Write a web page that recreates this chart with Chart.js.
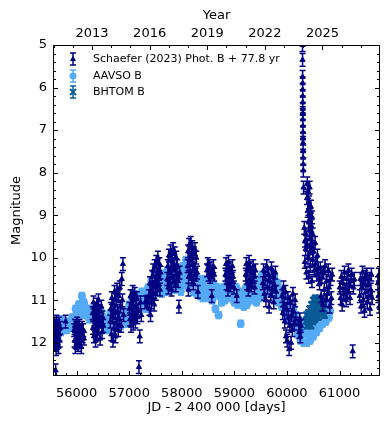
<!DOCTYPE html>
<html>
<head>
<meta charset="utf-8">
<script src="https://cdn.jsdelivr.net/npm/chart.js@4"></script>
<style>
  body { margin: 0; background: #fff; overflow: hidden; }
  #c { display: block; }
</style>
</head>
<body>
<canvas id="c" width="390" height="425"></canvas>
<script>
// ==================== DATOS ====================

// Schaefer (2023) Phot. B + 77.8 yr : JD - 2400000 y magnitud
const schJD = [
  55572,55578,55583,55588,55594,55600,55603,55609,55615,55620,55627,55633,55640,55648,55655,55662,55670,55678,55686,
  55790,
  55952,55960,55968,55975,55983,55991,55999,56008,56016,56025,56034,56043,56053,56064,56076,56088,56100,56112,56125,56138,
  56305,56312,56320,56328,56336,56344,56352,56360,56368,56377,56386,56395,56405,56415,56425,56436,56447,56458,56470,56482,56494,56506,
  56640,56650,56660,56670,56680,56690,56700,56710,56720,56730,56740,56750,56760,56770,56780,56790,56800,56810,56822,56834,56846,56858,56870,56880,56892,
  57005,57015,57025,57035,57045,57055,57065,57075,57085,57095,57105,57118,57130,57142,57155,57168,57185,57200,57215,57230,
  57300,57325,57350,
  57375,57385,57395,57405,57415,57425,57435,57445,57455,57465,57475,57485,57495,57505,57515,57525,57535,57545,57555,57565,57575,57585,57595,
  57725,57735,57745,57755,57765,57775,57785,57795,57805,57815,57825,57835,57845,57855,57865,57875,57885,57895,57905,57915,57930,57945,57958,
  58110,58120,58125,58130,58140,58150,58160,58170,58180,58190,58200,58210,58220,58230,58240,58250,58262,58275,58290,58305,
  58480,58495,58510,58525,58540,58555,58570,58585,58600,58615,
  58830,58842,58854,58866,58878,58890,58902,58914,58926,58938,58950,58962,58975,58990,59045,
  59215,59228,59241,59254,59267,59280,59293,59306,59319,59332,59345,59358,59371,59385,59400,
  59540,59555,59570,59585,59600,59615,59630,59645,59660,59675,59690,59705,59720,59735,59750,59765,59780,59795,
  59910,59922,59934,59946,59958,59970,59982,59994,60006,60018,60030,60042,60054,60066,60078,60090,60102,60114,60126,60140,60155,60170,
  60225,60235,60245,60255,60265,
  60296,60297,60298,60299,60300,60300,60301,60302,60302,60303,60304,60305,60306,60307,60308,60309,60310,60311,60315,
  60330,60345,60360,60380,60388,60395,60402,60410,60418,60425,60432,60440,60448,60456,60464,60472,60480,60490,
  60340,60355,60370,60385,60400,60415,60430,60445,60460,60475,60490,60505,60520,60535,60550,60565,60580,60595,60610,
  60620,60635,60650,60665,60680,60695,60710,60725,60740,60755,60770,60785,60800,60815,60830,60845,60860,
  61005,61020,61035,61050,61065,61080,61095,61110,61125,61140,61155,61170,61185,61200,61215,61230,61250,61265,61280,
  61385,61398,61411,61424,61437,61450,61463,61476,61489,61502,61515,61528,61541,61554,61567,61580,61593,61606,61620,
  61730,61740,61748,61755,61762
];
const schMag = [
  11.55,11.8,12.05,11.65,11.95,12.65,11.7,12.15,11.5,11.85,12.0,11.6,11.9,11.75,12.1,11.55,11.8,11.95,11.65,
  11.5,
  11.7,11.95,11.6,12.1,11.8,11.65,12.0,11.55,11.85,12.05,11.7,11.9,11.6,11.95,11.75,12.1,11.65,11.85,11.7,11.9,
  11.3,11.65,11.05,11.85,11.45,11.2,11.7,11.95,11.35,11.55,11.1,11.8,11.4,11.0,11.6,11.25,11.9,11.5,11.15,11.75,11.4,11.6,
  11.5,11.2,11.8,10.95,11.4,11.95,11.1,11.65,10.8,11.3,11.85,11.0,11.55,10.75,11.25,11.7,10.9,11.45,10.7,11.15,11.6,10.5,11.0,10.15,11.35,
  11.2,11.45,10.9,11.6,11.1,11.35,10.8,11.55,11.0,11.3,10.85,11.5,11.15,10.95,11.4,11.25,12.57,11.85,11.05,11.35,
  11.05,11.05,11.03,
  10.9,11.2,10.6,11.35,10.8,11.05,10.45,10.95,10.3,10.7,11.1,10.2,10.55,10.85,10.1,10.4,10.65,10.0,10.3,10.5,10.15,10.75,10.35,
  10.5,10.2,10.7,9.95,10.35,10.6,9.85,10.25,10.75,10.05,10.45,9.8,10.15,10.55,9.9,10.3,10.65,10.0,10.4,10.2,10.55,11.15,10.35,
  10.2,9.85,10.75,10.45,9.7,10.05,10.3,9.65,9.95,10.5,9.75,10.15,10.6,9.9,10.25,9.8,10.4,10.0,10.35,10.8,
  10.3,10.15,10.4,10.2,10.45,10.25,10.9,10.35,10.2,10.4,
  10.4,10.15,10.6,10.3,10.75,10.1,10.5,10.25,10.65,10.35,10.55,10.2,10.45,10.7,10.9,
  10.4,10.15,10.6,10.3,10.75,10.1,10.5,10.25,10.65,10.35,10.55,10.2,10.45,10.7,10.3,
  10.6,10.3,10.85,10.5,11.0,10.2,10.7,10.4,11.15,10.55,10.9,10.25,10.75,10.45,11.05,10.65,10.35,10.8,
  10.9,11.3,10.7,11.1,11.5,10.8,11.85,11.2,11.95,10.95,11.4,12.15,11.6,11.05,12.0,11.35,11.7,10.85,11.25,11.55,11.0,11.45,
  11.55,11.75,11.45,11.85,11.6,
  5.0,5.35,5.75,5.9,6.05,6.2,6.35,6.5,6.6,6.75,6.9,7.05,7.2,7.3,7.5,7.65,7.8,7.95,8.35,
  9.3,9.6,9.45,8.6,8.25,8.9,8.45,9.15,8.7,9.35,8.35,9.0,9.55,8.8,9.25,9.65,9.05,9.45,
  10.1,9.8,10.35,9.7,10.0,10.45,9.9,10.2,9.75,10.55,10.05,9.85,10.3,9.65,10.15,10.4,9.95,10.25,10.5,
  10.6,10.25,10.9,10.45,11.1,10.35,10.75,10.2,11.0,10.55,10.85,10.3,10.7,11.15,10.5,10.95,10.4,
  10.7,10.95,10.45,11.1,10.6,10.85,10.35,10.75,11.0,10.5,10.8,10.3,10.65,10.95,10.55,10.4,12.2,10.7,10.5,
  10.9,10.5,11.15,10.7,10.35,11.0,10.6,11.25,10.45,10.8,10.4,11.05,10.65,10.9,10.5,11.2,10.75,10.4,10.95,
  10.6,10.9,10.4,11.15,10.75
];

// AAVSO B
const aavsoJD = [
  55560,55580,55600, 55620,55640,55660, 55680,55700,55720, 55740,55760,55780, 55800,55820,55840,
  55860,55880,55900, 55920,55940,55960, 55980,56000,56020, 56040,56060,56080, 56100,56120,56140,
  56160,56180,56200, 56220,56240,56260, 56280,56300,56320, 56340,56360,56380, 56400,56420,56440,
  56460,56480,56500, 56520,56540,56560, 56580,56600,56620, 56640,56660,56680, 56700,56720,56740,
  56760,56780,56800, 56820,56840,56860, 56880,56900,56920, 56940,56960,56980, 57000,57020,57040,
  57060,57080,57100, 57120,57140,57160, 57180,57200,57220, 57240,57260,57280, 57300,57320,57340,
  57360,57380,57400, 57420,57440,57460, 57480,57500,57520, 57540,57560,57580, 57600,57620,57640,
  57660,57680,57700, 57720,57740,57760, 57780,57800,57820, 57840,57860,57880, 57900,57920,57940,
  57960,57980,58000, 58020,58040,58060, 58080,58100,58120, 58140,58160,58180, 58200,58220,58240,
  58260,58280,58300, 58320,58340,58360, 58380,58400,58420, 58440,58460,58480, 58500,58520,58540,
  58560,58580,58600, 58620,58640,58660, 58680,58700,58720, 58740,58760,58780, 58800,58820,58840,
  58860,58880,58900, 58920,58940,58960, 58980,59000,59020, 59040,59060,59080, 59100,59120,59140,
  59160,59180,59200, 59220,59240,59260, 59280,59300,59320, 59340,59360,59380, 59400,59420,59440,
  59460,59480,59500, 59520,59540,59560, 59580,59600,59620, 59640,59660,59680, 59700,59720,59740,
  59760,59780,59800, 59820,59840,59860, 59880,59900,59920, 59940,59960,59980, 60000,60020,60040,
  60060,60080,60100, 60120,60140,60160, 60180,60200,60220, 60240,60260,60280, 60300,60320,60340,
  60360,60380,60400, 60420,60440,60460, 60480,60500,60520, 60540,60560,60580, 60600,60620,60640,
  60660,60680,60700, 60720,60740,60760, 60780,60800,60820
];
const aavsoMag = [
  11.55,11.85,11.7, 11.5,11.8,11.65, 11.45,11.75,11.6, 11.45,11.7,11.55, 11.5,11.7,11.6,
  11.5,11.65,11.55, 11.4,11.6,11.5, 11.2,11.4,11.3, 11.1,11.35,11.2, 10.9,11.25,11.05,
  11.15,11.35,11.25, 11.2,11.45,11.3, 11.2,11.4,11.3, 11.25,11.45,11.35, 11.2,11.45,11.3,
  11.25,11.5,11.4, 11.45,11.7,11.55, 11.45,11.7,11.6, 11.3,11.65,11.45, 11.25,11.6,11.4,
  11.25,11.55,11.4, 11.3,11.6,11.45, 11.3,11.55,11.4, 11.25,11.55,11.4, 11.1,11.4,11.25,
  11.0,11.35,11.15, 10.9,11.25,11.05, 10.85,11.2,11.0, 10.8,11.15,10.95, 10.85,11.2,11.0,
  10.7,11.0,10.85, 10.55,10.9,10.7, 10.4,10.8,10.6, 10.35,10.8,10.55, 10.4,10.85,10.6,
  10.45,10.8,10.6, 10.3,10.75,10.5, 10.1,10.7,10.4, 10.35,10.75,10.55, 10.3,10.7,10.5,
  10.4,10.8,10.6, 10.2,10.65,10.4, 10.05,10.6,10.3, 10.3,10.7,10.5, 10.3,10.8,10.55,
  10.4,10.85,10.6, 10.5,10.9,10.7, 10.6,10.95,10.75, 10.5,10.9,10.7, 10.55,10.95,10.75,
  10.6,11.0,10.8, 10.65,11.2,10.85, 10.7,11.35,10.9, 10.75,11.05,10.9, 10.7,11.0,10.85,
  10.6,10.95,10.75, 10.55,10.95,10.75, 10.65,11.05,10.85, 10.7,11.1,10.9, 10.8,11.55,11.0,
  10.8,11.15,10.95, 10.7,11.1,10.9, 10.6,11.0,10.8, 10.55,11.0,10.75, 10.6,11.05,10.8,
  10.5,10.95,10.7, 10.4,10.9,10.65, 10.35,10.85,10.6, 10.3,10.8,10.55, 10.35,10.85,10.6,
  10.45,10.95,10.7, 10.6,11.05,10.8, 10.75,11.15,10.95, 10.9,11.3,11.1, 11.0,11.45,11.2,
  11.1,11.55,11.3, 11.2,11.65,11.4, 11.35,11.8,11.55, 11.5,11.95,11.7, 11.6,12.0,11.8,
  11.6,12.0,11.8, 11.55,11.95,11.75, 11.45,11.85,11.65, 11.35,11.75,11.55, 11.25,11.65,11.45,
  11.2,11.55,11.35, 11.1,11.5,11.3, 11.1,11.4,11.25
];

// BHTOM B
const bhtomJD = [
  60360,60370,60385,60400,60410,60420,60435,60445,60455,60470,60480,60490,60505,60515,60525,
  60540,60550,60560,60575,60585,60595,60610,60620,60630,60645,60655,60670,60685,60700,60715
];
const bhtomMag = [
  11.5,11.35,11.6,11.45,11.3,11.55,11.2,11.4,11.6,11.1,11.3,11.5,11.0,11.25,11.45,
  10.95,11.15,11.35,11.0,11.2,11.4,10.95,11.15,11.3,11.05,11.25,11.1,11.3,11.2,11.35
];

// Ejes
const jdTicks = [56000, 57000, 58000, 59000, 60000, 61000];
const magTicks = [5, 6, 7, 8, 9, 10, 11, 12];
const yearTicks = [2013, 2016, 2019, 2022, 2025];
const JD_MIN = 55550, JD_MAX = 61770;
const MAG_MIN = 5, MAG_MAX = 12.78;

// año -> JD - 2400000
function jdDeAnio(a) {
  return 51544.5 + (a - 2000) * 365.25;
}

function puntos(xs, ys) {
  return xs.map((x, i) => ({ x: x, y: ys[i] }));
}

// ==================== PLUGINS ====================

// barras de error verticales, dibujadas justo antes de los puntos de cada serie
const barrasError = {
  id: 'barrasError',
  beforeDatasetDraw(chart, args) {
    const ds = chart.data.datasets[args.index];
    if (!ds.err) return;
    const ys = chart.scales.y;
    const a = chart.chartArea;
    const ctx = chart.ctx;
    ctx.save();
    ctx.beginPath();
    ctx.rect(a.left, a.top, a.right - a.left, a.bottom - a.top);
    ctx.clip();
    ctx.strokeStyle = ds.errColor;
    ctx.lineWidth = ds.errWidth;
    ctx.beginPath();
    args.meta.data.forEach((p, i) => {
      const v = ds.data[i].y;
      const y0 = ys.getPixelForValue(v - ds.err);
      const y1 = ys.getPixelForValue(v + ds.err);
      ctx.moveTo(p.x, y0); ctx.lineTo(p.x, y1);
      ctx.moveTo(p.x - ds.cap, y0); ctx.lineTo(p.x + ds.cap, y0);
      ctx.moveTo(p.x - ds.cap, y1); ctx.lineTo(p.x + ds.cap, y1);
    });
    ctx.stroke();
    ctx.restore();
  }
};

// marco y marcas hacia dentro (estilo matplotlib) + leyenda
const marcoYLeyenda = {
  id: 'marcoYLeyenda',
  afterDraw(chart) {
    const ctx = chart.ctx;
    const a = chart.chartArea;
    const xs = chart.scales.x, ys = chart.scales.y;
    ctx.save();
    ctx.strokeStyle = '#000';
    ctx.lineWidth = 1;
    ctx.strokeRect(Math.round(a.left) + 0.5, Math.round(a.top) + 0.5,
      Math.round(a.right - a.left) - 1, Math.round(a.bottom - a.top) - 1);

    ctx.beginPath();
    // eje inferior JD
    for (let v = 55600; v <= JD_MAX; v += 200) {
      const px = Math.round(xs.getPixelForValue(v)) + 0.5;
      const len = v % 1000 === 0 ? 5 : 3;
      ctx.moveTo(px, a.bottom); ctx.lineTo(px, a.bottom - len);
    }
    // eje superior: años
    for (let an = 2011; an <= 2027; an++) {
      const jd = jdDeAnio(an);
      if (jd < JD_MIN || jd > JD_MAX) continue;
      const px = Math.round(xs.getPixelForValue(jd)) + 0.5;
      const len = yearTicks.includes(an) ? 5 : 3;
      ctx.moveTo(px, a.top); ctx.lineTo(px, a.top + len);
    }
    // ejes izquierdo y derecho
    for (let k = 25; k <= 63; k++) {
      const m = k / 5;
      if (m > MAG_MAX) break;
      const py = Math.round(ys.getPixelForValue(m)) + 0.5;
      const len = k % 5 === 0 ? 5 : 3;
      ctx.moveTo(a.left, py); ctx.lineTo(a.left + len, py);
      ctx.moveTo(a.right, py); ctx.lineTo(a.right - len, py);
    }
    ctx.stroke();

    // leyenda
    const entradas = [
      { texto: 'Schaefer (2023) Phot. B + 77.8 yr', color: '#000080', tipo: 'tri', y: 59 },
      { texto: 'AAVSO B', color: '#55aaf5', tipo: 'circ', y: 76 },
      { texto: 'BHTOM B', color: '#0a5a96', tipo: 'cruz', y: 92 }
    ];
    const mx = 73;
    entradas.forEach(e => {
      ctx.strokeStyle = e.color;
      ctx.fillStyle = e.color;
      ctx.lineWidth = 1.5;
      ctx.beginPath();
      ctx.moveTo(mx, e.y - 6); ctx.lineTo(mx, e.y + 6);
      ctx.moveTo(mx - 3, e.y - 6); ctx.lineTo(mx + 3, e.y - 6);
      ctx.moveTo(mx - 3, e.y + 6); ctx.lineTo(mx + 3, e.y + 6);
      ctx.stroke();
      ctx.beginPath();
      if (e.tipo === 'tri') {
        ctx.moveTo(mx, e.y - 3.5); ctx.lineTo(mx + 3, e.y + 2); ctx.lineTo(mx - 3, e.y + 2);
        ctx.closePath(); ctx.fill();
      } else if (e.tipo === 'circ') {
        ctx.arc(mx, e.y, 3.5, 0, Math.PI * 2); ctx.fill();
      } else {
        ctx.lineWidth = 2;
        ctx.moveTo(mx - 3, e.y - 3); ctx.lineTo(mx + 3, e.y + 3);
        ctx.moveTo(mx + 3, e.y - 3); ctx.lineTo(mx - 3, e.y + 3);
        ctx.stroke();
      }
      ctx.fillStyle = '#000';
      ctx.font = "11px 'DejaVu Sans'";
      ctx.textBaseline = 'middle';
      ctx.textAlign = 'left';
      ctx.fillText(e.texto, 93, e.y);
    });
    ctx.restore();
  }
};

// ==================== GRÁFICO ====================

Chart.defaults.font.family = "'DejaVu Sans', sans-serif";
Chart.defaults.font.size = 13;
Chart.defaults.color = '#000';

new Chart(document.getElementById('c'), {
  type: 'scatter',
  data: {
    datasets: [
      {
        label: 'Schaefer (2023) Phot. B + 77.8 yr',
        data: puntos(schJD, schMag),
        pointStyle: 'triangle',
        pointRadius: 3,
        backgroundColor: '#000080',
        borderColor: '#000080',
        borderWidth: 1,
        err: 0.15, errColor: '#000080', errWidth: 1.5, cap: 3
      },
      {
        label: 'BHTOM B',
        data: puntos(bhtomJD, bhtomMag),
        pointStyle: 'crossRot',
        pointRadius: 4.5,
        backgroundColor: '#0a5a96',
        borderColor: '#0a5a96',
        borderWidth: 2.5,
        err: 0.07, errColor: '#0a5a96', errWidth: 1.5, cap: 3
      },
      {
        label: 'AAVSO B',
        data: puntos(aavsoJD, aavsoMag),
        pointStyle: 'circle',
        pointRadius: 4,
        backgroundColor: '#55aaf5',
        borderColor: '#55aaf5',
        borderWidth: 0,
        err: 0.08, errColor: '#55aaf5', errWidth: 1.5, cap: 3
      }
    ]
  },
  options: {
    responsive: false,
    animation: false,
    events: [],
    layout: { padding: { left: 0, right: 10, top: 0, bottom: 0 } },
    plugins: {
      legend: { display: false },
      tooltip: { enabled: false }
    },
    scales: {
      x: {
        type: 'linear',
        position: 'bottom',
        min: JD_MIN,
        max: JD_MAX,
        grid: { display: false, drawTicks: false },
        border: { display: false },
        ticks: { padding: 10, maxRotation: 0, callback: v => String(v) },
        afterBuildTicks: s => { s.ticks = jdTicks.map(v => ({ value: v })); },
        afterFit: s => { s.height = 49; },
        title: { display: true, text: 'JD - 2 400 000 [days]', padding: { top: 10, bottom: 10 } }
      },
      x2: {
        type: 'linear',
        position: 'top',
        min: JD_MIN,
        max: JD_MAX,
        grid: { display: false, drawTicks: false },
        border: { display: false },
        ticks: { padding: 4, maxRotation: 0, callback: (v, i) => String(yearTicks[i]) },
        afterBuildTicks: s => { s.ticks = yearTicks.map(a => ({ value: jdDeAnio(a) })); },
        afterFit: s => { s.height = 45; },
        title: { display: true, text: 'Year', padding: { top: 8, bottom: 0 } }
      },
      y: {
        type: 'linear',
        reverse: true,
        min: MAG_MIN,
        max: MAG_MAX,
        grid: { display: false, drawTicks: false },
        border: { display: false },
        ticks: { padding: 6, callback: v => String(v) },
        afterBuildTicks: s => { s.ticks = magTicks.map(v => ({ value: v })); },
        afterFit: s => { s.width = 53; },
        title: { display: true, text: 'Magnitude', padding: { top: 9, bottom: 0 } }
      }
    }
  },
  plugins: [barrasError, marcoYLeyenda]
});
</script>
</body>
</html>
